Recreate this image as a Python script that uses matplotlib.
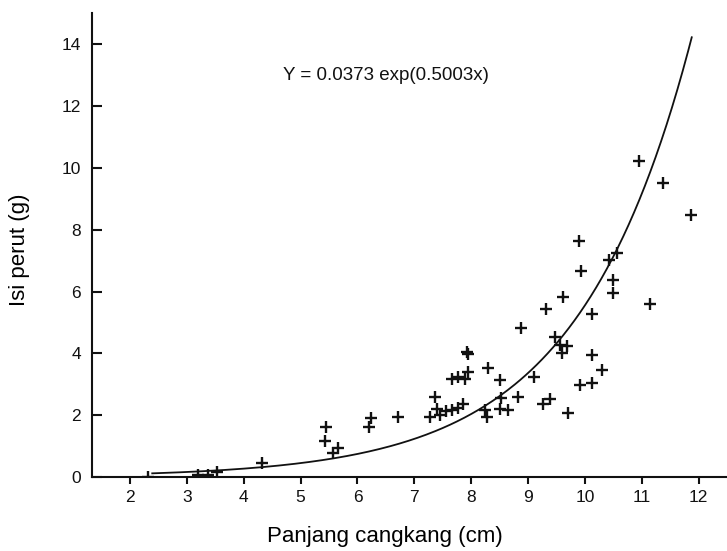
import numpy as np
import matplotlib
matplotlib.use("Agg")
import matplotlib.pyplot as plt

plt.rcParams['font.family'] = ['Liberation Sans', 'DejaVu Sans']

# data (shell length cm, stomach content g)
panjang = [2.32, 3.20, 3.37, 3.53, 4.32, 5.45, 5.43, 5.66, 5.57, 6.24, 6.21, 6.72,
           7.37, 7.28, 7.40, 7.46, 7.55, 7.67, 7.77, 7.85, 7.67, 7.76, 7.90, 7.95,
           7.93, 7.95, 8.30, 8.25, 8.27, 8.51, 8.53, 8.51, 8.64, 8.83, 8.87, 9.10,
           9.27, 9.39, 9.32, 9.62, 9.48, 9.57, 9.69, 9.59, 9.71, 9.89, 9.94, 10.13,
           10.12, 9.92, 10.13, 10.31, 10.42, 10.57, 10.50, 10.49, 10.96, 11.37,
           11.86, 11.15]
isi = [0.00, 0.06, 0.07, 0.16, 0.45, 1.61, 1.16, 0.94, 0.77, 1.90, 1.61, 1.94,
       2.58, 1.94, 2.20, 2.00, 2.13, 2.16, 2.23, 2.35, 3.19, 3.23, 3.19, 3.39,
       4.06, 3.97, 3.52, 2.16, 1.94, 3.13, 2.55, 2.19, 2.16, 2.58, 4.81, 3.23,
       2.35, 2.52, 5.45, 5.81, 4.52, 4.26, 4.23, 4.03, 2.06, 7.65, 6.65, 5.26,
       3.94, 2.97, 3.06, 3.45, 7.03, 7.26, 6.39, 5.97, 10.23, 9.52, 8.48, 5.61]

# fitted model Y = a exp(b x)
a, b = 0.0373, 0.5003
x_start, x_end = 2.39, 11.88

fig = plt.figure(figsize=(7.27, 5.51), dpi=100)
ax = fig.add_axes([0.1265, 0.134, 0.8735, 0.842])

xs = np.linspace(x_start, x_end, 300)
ax.plot(xs, a * np.exp(b * xs), color='#111111', lw=1.3, zorder=1)
ax.plot(panjang, isi, linestyle='none', marker='+', ms=8, mew=1.7,
        color='#111111', zorder=2)

ax.text(6.5, 13.0, 'Y = 0.0373 exp(0.5003x)', fontsize=13.5, ha='center',
        va='center', color='#111111')

ax.set_xlim(1.33, 12.5)
ax.set_ylim(0, 15)
ax.set_xticks(range(2, 13))
ax.set_yticks(range(0, 15, 2))

for side in ['top', 'right']:
    ax.spines[side].set_visible(False)
for side in ['left', 'bottom']:
    ax.spines[side].set_linewidth(1.5)
    ax.spines[side].set_color('#111111')

ax.tick_params(axis='x', direction='out', length=5, width=1.5, labelsize=12.5,
               pad=4, colors='#111111')
ax.tick_params(axis='y', direction='in', length=7, width=1.5, labelsize=12.5,
               pad=8, colors='#111111')

ax.set_xlabel('Panjang cangkang (cm)', fontsize=16)
ax.set_ylabel('Isi perut (g)', fontsize=16)
ax.xaxis.set_label_coords(0.461, -0.105)
ax.yaxis.set_label_coords(-0.098, 0.49)

fig.savefig('out.png', dpi=100)
